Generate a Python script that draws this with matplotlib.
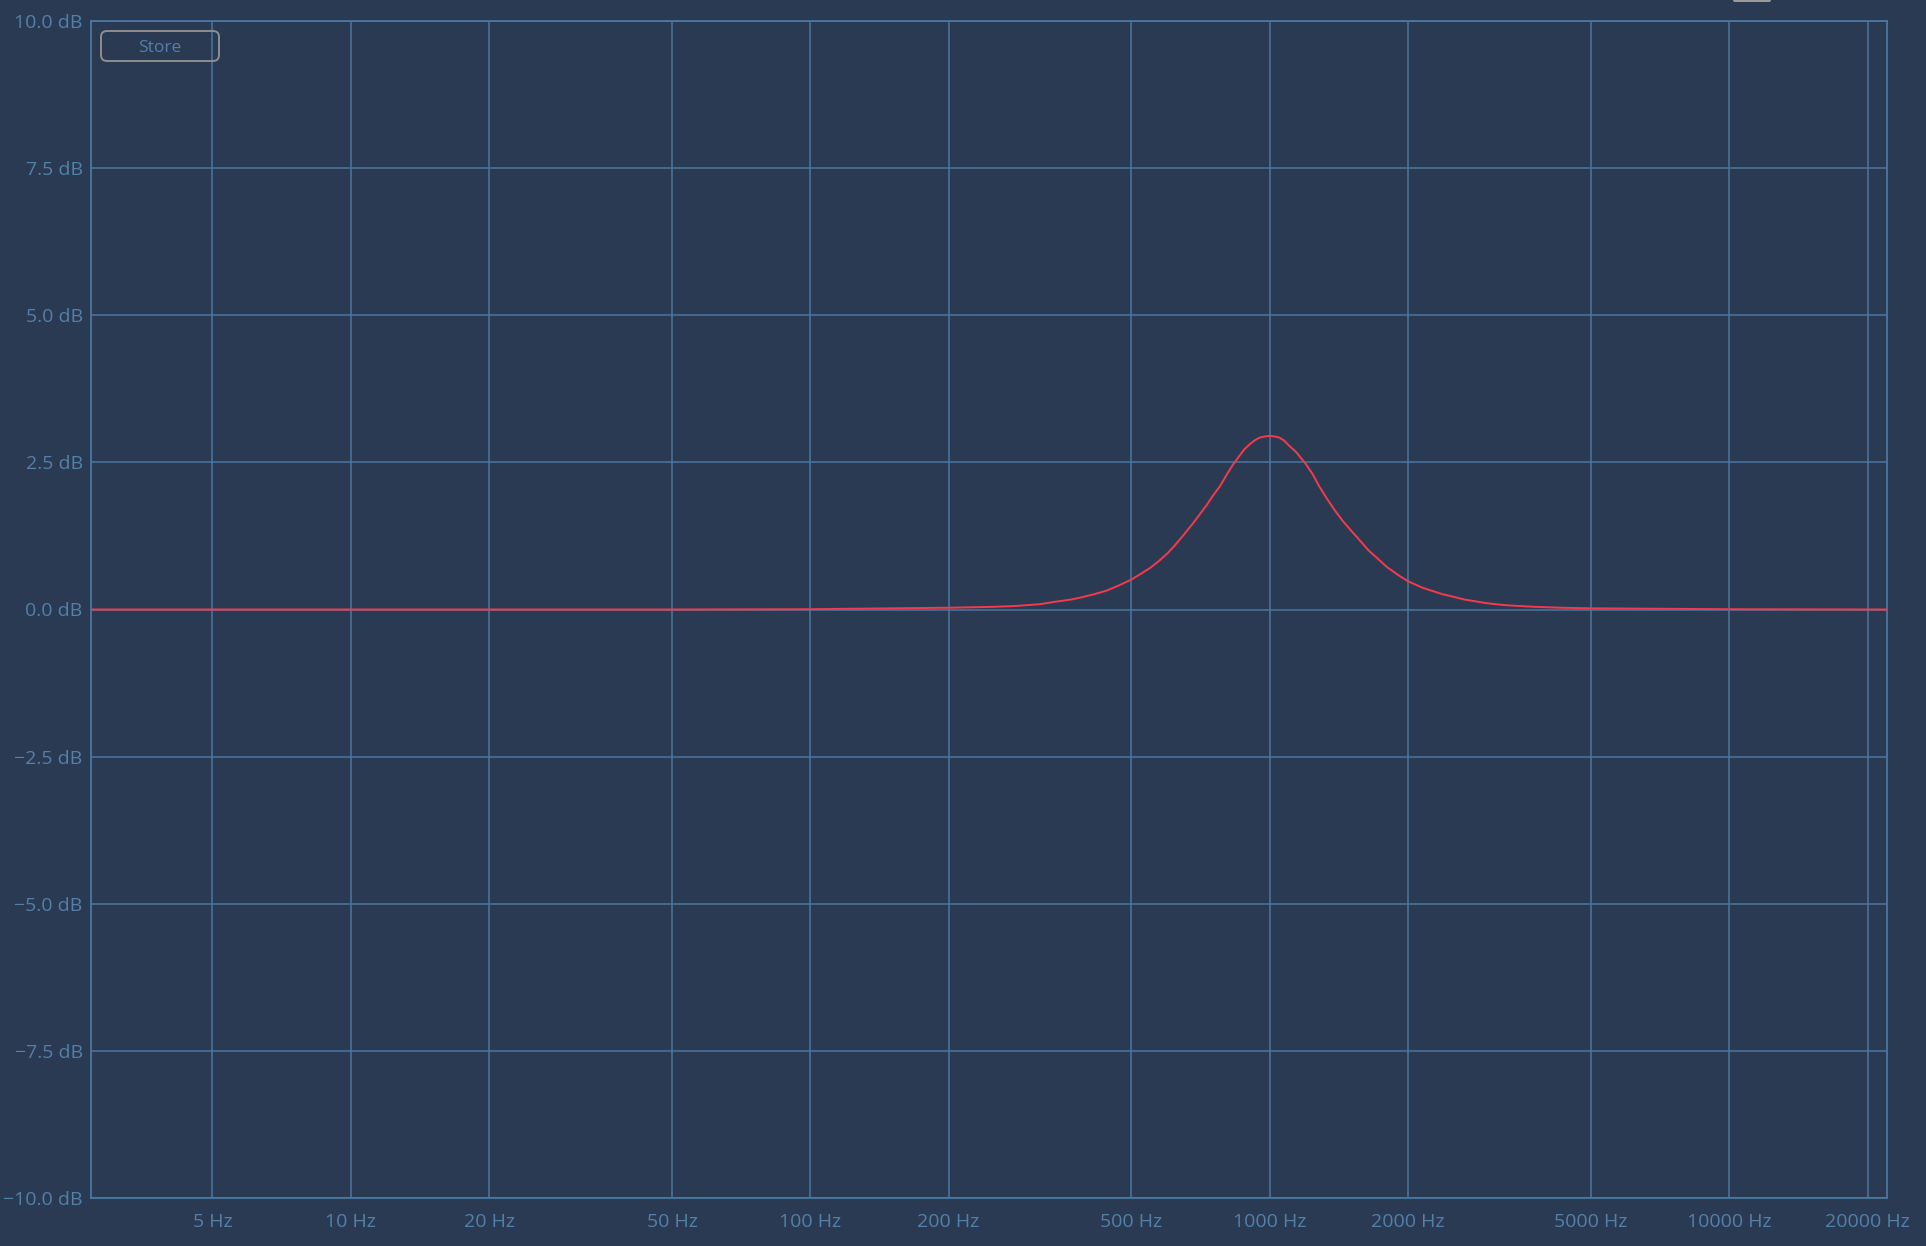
import matplotlib.pyplot as plt
from matplotlib.patches import FancyBboxPatch
from matplotlib.transforms import IdentityTransform

plt.rcParams['font.family'] = ['Open Sans', 'DejaVu Sans']

# EQ response (peak ~3 dB at 1 kHz)
freqs = [2.72, 50, 100, 200, 250, 280, 316, 340, 370, 386, 415, 441, 470, 500,
         525, 550, 575, 600, 620, 650, 680, 700, 730, 750, 780, 810, 835, 880,
         908, 930, 950, 975, 1000, 1025, 1050, 1075, 1100, 1140, 1196, 1240,
         1280, 1330, 1390, 1440, 1500, 1560, 1643, 1720, 1800, 1900, 2000, 2150,
         2375, 2500, 2650, 2953, 3100, 3300, 3784, 4300, 5000, 10000, 22050]
gain_db = [0.0, 0.0, 0.005, 0.03, 0.045, 0.06, 0.09, 0.13, 0.17, 0.20, 0.26, 0.32,
           0.41, 0.51, 0.61, 0.71, 0.83, 0.96, 1.08, 1.27, 1.46, 1.59, 1.78, 1.92,
           2.10, 2.32, 2.48, 2.72, 2.82, 2.88, 2.92, 2.94, 2.95, 2.94, 2.92, 2.87,
           2.79, 2.68, 2.48, 2.30, 2.10, 1.89, 1.67, 1.51, 1.35, 1.20, 1.0, 0.86,
           0.72, 0.59, 0.48, 0.37, 0.26, 0.22, 0.17, 0.11, 0.09, 0.07, 0.045, 0.03,
           0.02, 0.005, 0.0]

x_ticks = [5, 10, 20, 50, 100, 200, 500, 1000, 2000, 5000, 10000, 20000]
x_labels = ['5 Hz', '10 Hz', '20 Hz', '50 Hz', '100 Hz', '200 Hz', '500 Hz',
            '1000 Hz', '2000 Hz', '5000 Hz', '10000 Hz', '20000 Hz']
y_ticks = [-10, -7.5, -5, -2.5, 0, 2.5, 5, 7.5, 10]
y_labels = ['\u221210.0 dB', '\u22127.5 dB', '\u22125.0 dB', '\u22122.5 dB', '0.0 dB',
            '2.5 dB', '5.0 dB', '7.5 dB', '10.0 dB']

bg = '#2b3a53'
grid_c = '#4a77a0'
text_c = '#5280a8'
curve_c = '#f53a4c'

W, H = 1926, 1246
fig = plt.figure(figsize=(W / 100, H / 100), dpi=100, facecolor=bg)
ax = fig.add_axes([91 / W, 1 - 1198 / H, (1887 - 91) / W, (1198 - 21) / H])
ax.set_facecolor(bg)

ax.plot(freqs, gain_db, color=curve_c, lw=1.4, zorder=3,
        solid_joinstyle='round', antialiased=True)

ax.set_xscale('log')
ax.set_xlim(2.72, 22050)
ax.set_ylim(-10, 10)
ax.set_xticks(x_ticks)
ax.set_xticklabels(x_labels)
ax.minorticks_off()
ax.set_yticks(y_ticks)
ax.set_yticklabels(y_labels)
ax.tick_params(length=0, colors=text_c, labelsize=14)
ax.tick_params(axis='x', pad=11)
ax.tick_params(axis='y', pad=6)
ax.grid(True, color=grid_c, lw=1.1)
for s in ax.spines.values():
    s.set_color(grid_c)
    s.set_linewidth(1.3)

# "Store" button, top left
btn = FancyBboxPatch((101, H - 61), 118, 30, boxstyle='round,pad=0,rounding_size=6',
                     transform=IdentityTransform(), facecolor='none',
                     edgecolor='#8e8e8e', lw=1.4)
fig.add_artist(btn)
fig.text(160 / W, 1 - 47.5 / H, 'Store', color=text_c, fontsize=12.5,
         ha='center', va='center')

# cut-off tab at top right edge
tab = FancyBboxPatch((1733, H - 2), 38, 10, boxstyle='round,pad=0,rounding_size=2',
                     transform=IdentityTransform(), facecolor='#9b9a96',
                     edgecolor='none')
fig.add_artist(tab)

fig.savefig('out.png', dpi=100, facecolor=bg)
